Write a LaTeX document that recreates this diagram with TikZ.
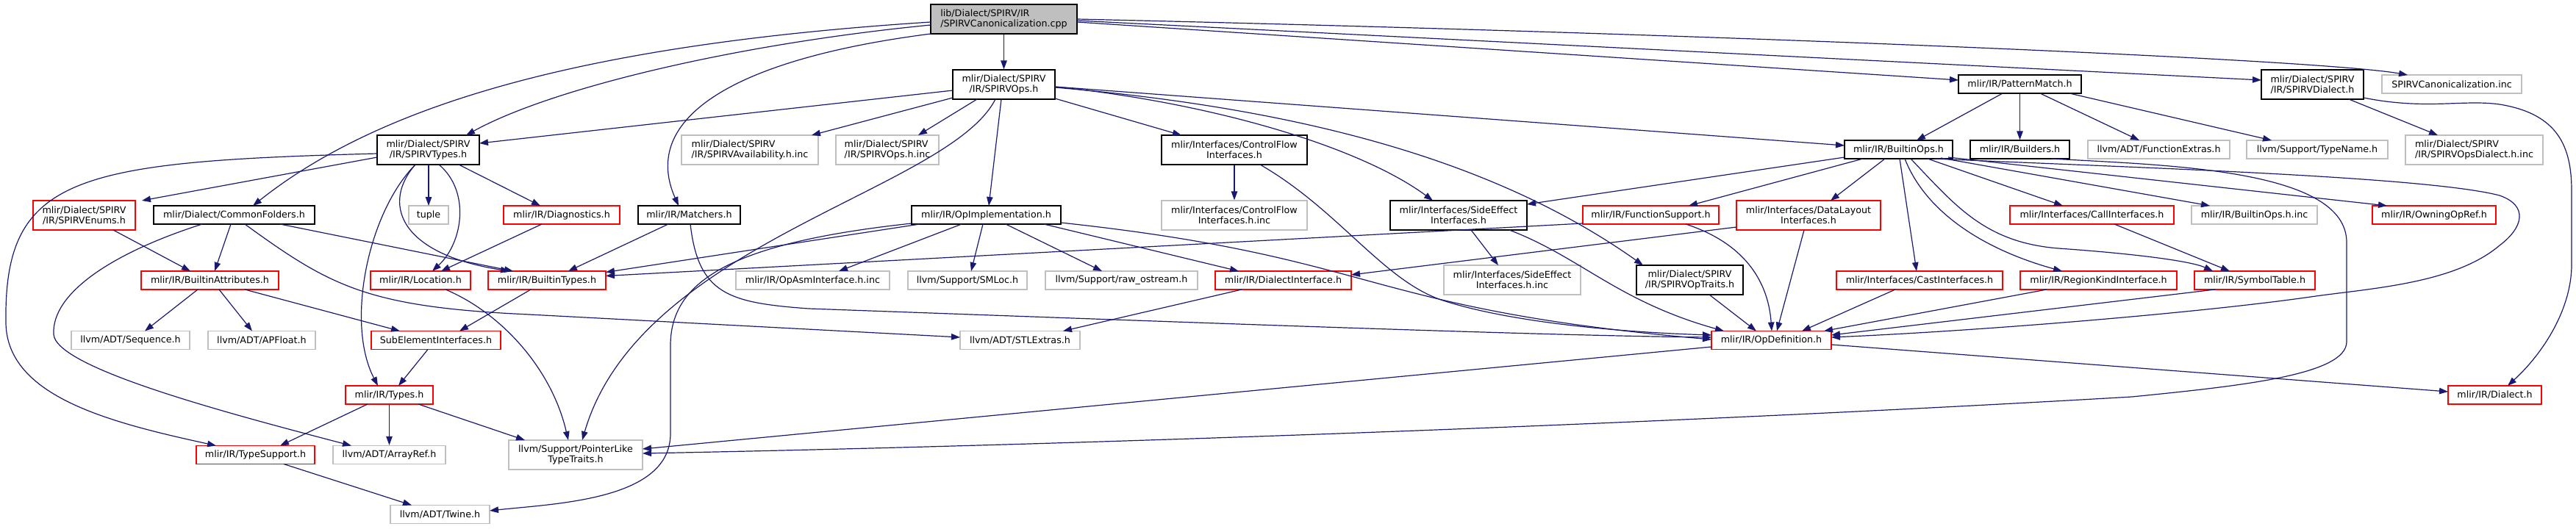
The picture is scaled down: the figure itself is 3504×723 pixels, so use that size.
\documentclass[tikz,border=0pt]{standalone}
\usepackage{fontspec}
\setmainfont{DejaVu Sans}
\usetikzlibrary{arrows.meta}
\definecolor{edgeb}{HTML}{191970}
\definecolor{grayb}{HTML}{BFBFBF}
\definecolor{redb}{HTML}{FF0000}
\begin{document}
\begin{tikzpicture}[x=1pt,y=-1pt,
  nd/.style={draw, line width=1.3pt, inner sep=0pt, font=\fontsize{12.7}{14}\selectfont, align=center, text=black},
  nblk/.style={nd, draw=black},
  nred/.style={nd, draw=redb},
  ngry/.style={nd, draw=grayb},
  nroot/.style={nd, draw=black, fill=grayb},
  sz/.style 2 args={minimum width=#1pt, minimum height=#2pt},
  dep/.style={draw=edgeb, line width=1.2pt, -{Triangle[length=12pt,width=8.5pt]}}]
\useasboundingbox (0,0) rectangle (3504,723);
% nodes
\node[nroot, sz={199}{40}, align=left] (root) at (1365.5,26) {lib/Dialect/SPIRV/IR\\/SPIRVCanonicalization.cpp};
\node[nblk, sz={139}{40}] (ops) at (1365.5,115) {mlir/Dialect/SPIRV\\/IR/SPIRVOps.h};
\node[nblk, sz={167}{25}] (pm) at (2747.5,114.5) {mlir/IR/PatternMatch.h};
\node[nblk, sz={139}{40}] (dial) at (3145.5,115) {mlir/Dialect/SPIRV\\/IR/SPIRVDialect.h};
\node[ngry, sz={190}{25}] (cinc) at (3335,114.5) {SPIRVCanonicalization.inc};
\node[nblk, sz={139}{40}] (types) at (582.5,204) {mlir/Dialect/SPIRV\\/IR/SPIRVTypes.h};
\node[ngry, sz={186}{40}, align=left] (avail) at (1020,204) {mlir/Dialect/SPIRV\\/IR/SPIRVAvailability.h.inc};
\node[ngry, sz={140}{40}, align=left] (opsinc) at (1207,204) {mlir/Dialect/SPIRV\\/IR/SPIRVOps.h.inc};
\node[nblk, sz={198}{40}] (cf) at (1679,204) {mlir/Interfaces/ControlFlow\\Interfaces.h};
\node[nblk, sz={147}{25}] (bops) at (2582.5,203.5) {mlir/IR/BuiltinOps.h};
\node[nblk, sz={135}{25}] (build) at (2747.5,203.5) {mlir/IR/Builders.h};
\node[ngry, sz={193}{25}] (fext) at (2936.5,203.5) {llvm/ADT/FunctionExtras.h};
\node[ngry, sz={192}{25}] (tname) at (3152,203.5) {llvm/Support/TypeName.h};
\node[ngry, sz={187}{40}, align=left] (odinc) at (3365.5,204) {mlir/Dialect/SPIRV\\/IR/SPIRVOpsDialect.h.inc};
\node[nred, sz={139}{40}] (enums) at (114.5,293) {mlir/Dialect/SPIRV\\/IR/SPIRVEnums.h};
\node[nblk, sz={219}{25}] (cfold) at (318.5,292.5) {mlir/Dialect/CommonFolders.h};
\node[ngry, sz={54}{25}] (tuple) at (583,292.5) {tuple};
\node[nred, sz={158}{25}] (diag) at (764,292.5) {mlir/IR/Diagnostics.h};
\node[nblk, sz={139}{25}] (match) at (937.5,292.5) {mlir/IR/Matchers.h};
\node[nblk, sz={203}{25}] (opimpl) at (1341.5,292.5) {mlir/IR/OpImplementation.h};
\node[ngry, sz={198}{40}] (cfinc) at (1679,293) {mlir/Interfaces/ControlFlow\\Interfaces.h.inc};
\node[nblk, sz={186}{40}] (side) at (1984,293) {mlir/Interfaces/SideEffect\\Interfaces.h};
\node[nred, sz={185}{25}] (fsup) at (2245.5,292.5) {mlir/IR/FunctionSupport.h};
\node[nred, sz={196}{40}] (dl) at (2460,293) {mlir/Interfaces/DataLayout\\Interfaces.h};
\node[nred, sz={223}{25}] (call) at (2845.5,292.5) {mlir/Interfaces/CallInterfaces.h};
\node[ngry, sz={171}{25}] (bopsinc) at (3066.5,292.5) {mlir/IR/BuiltinOps.h.inc};
\node[nred, sz={168}{25}] (owning) at (3311,292.5) {mlir/IR/OwningOpRef.h};
\node[nred, sz={187}{25}] (battr) at (285.5,381.5) {mlir/IR/BuiltinAttributes.h};
\node[nred, sz={136}{25}] (loc) at (572,381.5) {mlir/IR/Location.h};
\node[nred, sz={160}{25}] (btypes) at (744,381.5) {mlir/IR/BuiltinTypes.h};
\node[ngry, sz={209}{25}] (asminc) at (1105.5,381.5) {mlir/IR/OpAsmInterface.h.inc};
\node[ngry, sz={162}{25}] (smloc) at (1316,381.5) {llvm/Support/SMLoc.h};
\node[ngry, sz={207}{25}] (raw) at (1525.5,381.5) {llvm/Support/raw\_ostream.h};
\node[nred, sz={185}{25}] (diface) at (1745.5,381.5) {mlir/IR/DialectInterface.h};
\node[ngry, sz={186}{40}] (sideinc) at (2057,381) {mlir/Interfaces/SideEffect\\Interfaces.h.inc};
\node[nblk, sz={145}{40}] (traits) at (2298.5,381) {mlir/Dialect/SPIRV\\/IR/SPIRVOpTraits.h};
\node[nred, sz={226}{25}] (cast) at (2611,381.5) {mlir/Interfaces/CastInterfaces.h};
\node[nred, sz={213}{25}] (region) at (2854.5,381.5) {mlir/IR/RegionKindInterface.h};
\node[nred, sz={164}{25}] (symtab) at (3067,381.5) {mlir/IR/SymbolTable.h};
\node[ngry, sz={161}{25}] (seq) at (177.5,463) {llvm/ADT/Sequence.h};
\node[ngry, sz={146}{25}] (apf) at (356,463) {llvm/ADT/APFloat.h};
\node[nred, sz={176}{25}] (subel) at (593,463) {SubElementInterfaces.h};
\node[ngry, sz={163}{25}] (stl) at (1387.5,463) {llvm/ADT/STLExtras.h};
\node[nred, sz={163}{25}] (opdef) at (2409.5,463) {mlir/IR/OpDefinition.h};
\node[nred, sz={119}{25}] (tys) at (529.5,537.5) {mlir/IR/Types.h};
\node[nred, sz={127}{25}] (dialect) at (3393.5,537.5) {mlir/IR/Dialect.h};
\node[nred, sz={161}{25}] (tsup) at (347.5,619) {mlir/IR/TypeSupport.h};
\node[ngry, sz={153}{25}] (aref) at (529.5,619) {llvm/ADT/ArrayRef.h};
\node[ngry, sz={182}{40}] (ptr) at (783,619) {llvm/Support/PointerLike\\TypeTraits.h};
\node[ngry, sz={135}{25}] (twine) at (598.5,700) {llvm/ADT/Twine.h};
% root
\draw[dep] ([shift={(-99.5,8)}]root.center) .. controls (1000,60) and (750,120) .. ([shift={(51.5,-20)}]types.center);
\draw[dep] ([shift={(-99.5,4)}]root.center) .. controls (800,60) and (520,140) .. ([shift={(25.5,-12.5)}]cfold.center);
\draw[dep] ([shift={(-99.5,20)}]root.center) .. controls (1000,80) and (870,160) .. ([shift={(-14.5,-12.5)}]match.center);
\draw[dep] (root) -- (ops);
\draw[dep] ([shift={(99.5,4)}]root.center) -- ([shift={(-83.5,-5.5)}]pm.center);
\draw[dep] ([shift={(99.5,2)}]root.center) -- ([shift={(-69.5,-6)}]dial.center);
\draw[dep] ([shift={(99.5,0)}]root.center) .. controls (2300,45) and (3150,80) .. ([shift={(-60,-12.5)}]cinc.center);
% ops
\draw[dep] ([shift={(-69.5,8)}]ops.center) -- ([shift={(69.5,-9)}]types.center);
\draw[dep] ([shift={(-69.5,18)}]ops.center) -- ([shift={(84,-20)}]avail.center);
\draw[dep] ([shift={(-36.5,20)}]ops.center) -- ([shift={(42,-20)}]opsinc.center);
\draw[dep] ([shift={(-3.5,20)}]ops.center) -- ([shift={(3.5,-12.5)}]opimpl.center);
\draw[dep] ([shift={(-11.5,20)}]ops.center) .. controls (1290,260) and (870,330) .. ([shift={(9,-20)}]ptr.center);
\draw[dep] ([shift={(69.5,19)}]ops.center) -- ([shift={(-72,-20)}]cf.center);
\draw[dep] ([shift={(69.5,3)}]ops.center) .. controls (1650,140) and (1850,200) .. ([shift={(-35,-20)}]side.center);
\draw[dep] ([shift={(69.5,3)}]ops.center) -- ([shift={(-73.5,-5.5)}]bops.center);
\draw[dep] ([shift={(69.5,4)}]ops.center) .. controls (1800,150) and (2050,230) .. ([shift={(-63.5,-20)}]traits.center);
% types
\draw[dep] ([shift={(-69.5,10)}]types.center) -- ([shift={(78.5,-20)}]enums.center);
\draw[dep] ([shift={(-69.5,5)}]types.center) .. controls (100,220) and (5,240) .. (8,440) .. controls (10,540) and (150,575) .. ([shift={(-53.5,-12.5)}]tsup.center);
\draw[dep] ([shift={(0.5,20)}]types.center) -- ([shift={(0,-12.5)}]tuple.center);
\draw[dep] ([shift={(14.5,20)}]types.center) .. controls (640,260) and (630,330) .. ([shift={(16,-12.5)}]loc.center);
\draw[dep] ([shift={(-17.5,20)}]types.center) .. controls (500,290) and (470,440) .. ([shift={(-15.5,-12.5)}]tys.center);
\draw[dep] ([shift={(-17.5,20)}]types.center) .. controls (520,275) and (540,345) .. ([shift={(-51,-12.5)}]btypes.center);
\draw[dep] ([shift={(41.5,20)}]types.center) -- ([shift={(-29,-12.5)}]diag.center);
% enums, common folders
\draw[dep] ([shift={(39.5,20)}]enums.center) -- ([shift={(-26.5,-12.5)}]battr.center);
\draw[dep] ([shift={(-4.5,12.5)}]cfold.center) -- ([shift={(6.5,-12.5)}]battr.center);
\draw[dep] ([shift={(62.5,12.5)}]cfold.center) -- ([shift={(-46,-12.5)}]btypes.center);
\draw[dep] ([shift={(-43.5,12.5)}]cfold.center) .. controls (150,345) and (70,400) .. (73,455) .. controls (76,500) and (300,560) .. ([shift={(-51.5,-12.5)}]aref.center);
\draw[dep] ([shift={(14.5,12.5)}]cfold.center) .. controls (450,390) and (500,418) .. (720,428) -- ([shift={(-81.5,-4)}]stl.center);
% builtin attributes
\draw[dep] ([shift={(-16.5,12.5)}]battr.center) -- ([shift={(19.5,-12.5)}]seq.center);
\draw[dep] ([shift={(12.5,12.5)}]battr.center) -- ([shift={(-13,-12.5)}]apf.center);
\draw[dep] ([shift={(47.5,12.5)}]battr.center) -- ([shift={(-49,-12.5)}]subel.center);
% location etc.
\draw[dep] ([shift={(34,12.5)}]loc.center) .. controls (680,425) and (750,500) .. ([shift={(-10,-20)}]ptr.center);
\draw[dep] ([shift={(-27,12.5)}]diag.center) -- ([shift={(28,-12.5)}]loc.center);
\draw[dep] ([shift={(-22,12.5)}]btypes.center) -- ([shift={(32,-12.5)}]subel.center);
\draw[dep] ([shift={(-11,12.5)}]subel.center) -- ([shift={(12.5,-12.5)}]tys.center);
\draw[dep] ([shift={(-29.5,12.5)}]tys.center) -- ([shift={(33.5,-12.5)}]tsup.center);
\draw[dep] (tys) -- (aref);
\draw[dep] ([shift={(39.5,12.5)}]tys.center) -- ([shift={(-69,-20)}]ptr.center);
\draw[dep] ([shift={(38.5,12.5)}]tsup.center) -- ([shift={(-38.5,-12.5)}]twine.center);
% op implementation
\draw[dep] ([shift={(-101.5,11.5)}]opimpl.center) .. controls (1000,330) and (912,380) .. (912,470) -- (912,590) .. controls (912,680) and (760,685) .. ([shift={(67.5,-5)}]twine.center);
\draw[dep] ([shift={(-90.5,12.5)}]opimpl.center) -- ([shift={(80,-11)}]btypes.center);
\draw[dep] ([shift={(-33.5,12.5)}]opimpl.center) -- ([shift={(35.5,-12.5)}]asminc.center);
\draw[dep] ([shift={(-4.5,12.5)}]opimpl.center) -- ([shift={(5,-12.5)}]smloc.center);
\draw[dep] ([shift={(26.5,12.5)}]opimpl.center) -- ([shift={(-26.5,-12.5)}]raw.center);
\draw[dep] ([shift={(78.5,12.5)}]opimpl.center) -- ([shift={(-60.5,-12.5)}]diface.center);
\draw[dep] ([shift={(101.5,10.5)}]opimpl.center) .. controls (1880,350) and (1850,420) .. ([shift={(-81.5,-1)}]opdef.center);
% matchers
\draw[dep] ([shift={(-28.5,12.5)}]match.center) -- ([shift={(29,-12.5)}]btypes.center);
\draw[dep] ([shift={(1.5,12.5)}]match.center) .. controls (950,400) and (990,412) .. (1100,420) .. controls (1600,438) and (2100,457) .. ([shift={(-81.5,-4)}]opdef.center);
% control flow, side effect
\draw[dep] (cf) -- (cfinc);
\draw[dep] ([shift={(35,20)}]cf.center) .. controls (1820,285) and (1880,380) .. (1960,408) .. controls (2050,438) and (2200,452) .. ([shift={(-81.5,-7)}]opdef.center);
\draw[dep] ([shift={(17,20)}]side.center) -- ([shift={(-19,-20)}]sideinc.center);
\draw[dep] ([shift={(69,20)}]side.center) .. controls (2150,350) and (2200,410) .. ([shift={(-64.5,-12.5)}]opdef.center);
% interfaces into OpDefinition
\draw[dep] ([shift={(-56.5,12.5)}]diface.center) -- ([shift={(58.5,-12.5)}]stl.center);
\draw[dep] ([shift={(-98,16)}]dl.center) -- ([shift={(92.5,-7.5)}]diface.center);
\draw[dep] ([shift={(-6,20)}]dl.center) -- ([shift={(7.5,-12.5)}]opdef.center);
\draw[dep] ([shift={(-92.5,11.5)}]fsup.center) -- ([shift={(80,-6)}]btypes.center);
\draw[dep] ([shift={(47.5,12.5)}]fsup.center) .. controls (2370,330) and (2405,380) .. ([shift={(0.5,-12.5)}]opdef.center);
\draw[dep] ([shift={(26.5,20)}]traits.center) -- ([shift={(-20.5,-12.5)}]opdef.center);
\draw[dep] ([shift={(-33,12.5)}]cast.center) -- ([shift={(41.5,-12.5)}]opdef.center);
\draw[dep] ([shift={(-70.5,12.5)}]region.center) -- ([shift={(71.5,-12.5)}]opdef.center);
\draw[dep] ([shift={(-54,12.5)}]symtab.center) -- ([shift={(81.5,-7)}]opdef.center);
% OpDefinition out
\draw[dep] ([shift={(-81.5,9)}]opdef.center) -- ([shift={(91,-8)}]ptr.center);
\draw[dep] ([shift={(81.5,6)}]opdef.center) -- ([shift={(-63.5,-4.5)}]dialect.center);
% BuiltinOps
\draw[dep] ([shift={(48.5,12.5)}]bops.center) .. controls (2900,228) and (3300,240) .. (3400,266) .. controls (3440,280) and (3432,310) .. (3400,334) .. controls (3340,385) and (3230,392) .. (3150,403) .. controls (3000,425) and (2700,450) .. ([shift={(81.5,-4)}]opdef.center);
\draw[dep] ([shift={(-73.5,10.5)}]bops.center) -- ([shift={(93,-15)}]side.center);
\draw[dep] ([shift={(-48.5,12.5)}]bops.center) -- ([shift={(51.5,-12.5)}]fsup.center);
\draw[dep] ([shift={(-18.5,12.5)}]bops.center) -- ([shift={(30,-20)}]dl.center);
\draw[dep] ([shift={(1.5,12.5)}]bops.center) -- ([shift={(-4,-12.5)}]cast.center);
\draw[dep] ([shift={(8.5,12.5)}]bops.center) .. controls (2620,290) and (2700,340) .. ([shift={(-49.5,-12.5)}]region.center);
\draw[dep] ([shift={(16.5,12.5)}]bops.center) .. controls (2660,280) and (2700,330) .. (2800,338) .. controls (2900,345) and (2980,355) .. ([shift={(-57,-12.5)}]symtab.center);
\draw[dep] ([shift={(39.5,12.5)}]bops.center) -- ([shift={(-39.5,-12.5)}]call.center);
\draw[dep] ([shift={(57.5,11.5)}]bops.center) -- ([shift={(-60.5,-12.5)}]bopsinc.center);
\draw[dep] ([shift={(67.5,10.5)}]bops.center) -- ([shift={(-64,-12.5)}]owning.center);
% Builders
\draw[dep] ([shift={(42.5,12.5)}]build.center) .. controls (2950,225) and (3192,230) .. (3192,330) -- (3192,465) .. controls (3192,510) and (3050,525) .. (2900,540) .. controls (2300,575) and (1500,605) .. ([shift={(91,-2)}]ptr.center);
% CallInterfaces, PatternMatch, SPIRVDialect
\draw[dep] ([shift={(30.5,12.5)}]call.center) -- ([shift={(-34,-12.5)}]symtab.center);
\draw[dep] ([shift={(-23.5,12.5)}]pm.center) -- ([shift={(24.5,-12.5)}]bops.center);
\draw[dep] (pm) -- (build);
\draw[dep] ([shift={(27.5,12.5)}]pm.center) -- ([shift={(-26.5,-12.5)}]fext.center);
\draw[dep] ([shift={(67.5,12.5)}]pm.center) -- ([shift={(-62,-12.5)}]tname.center);
\draw[dep] ([shift={(49.5,20)}]dial.center) -- ([shift={(-49.5,-20)}]odinc.center);
\draw[dep] ([shift={(69.5,18)}]dial.center) .. controls (3300,150) and (3350,135) .. (3400,142) .. controls (3480,155) and (3498,200) .. (3498,260) -- (3498,360) .. controls (3498,420) and (3460,480) .. ([shift={(17.5,-12.5)}]dialect.center);
\end{tikzpicture}
\end{document}
